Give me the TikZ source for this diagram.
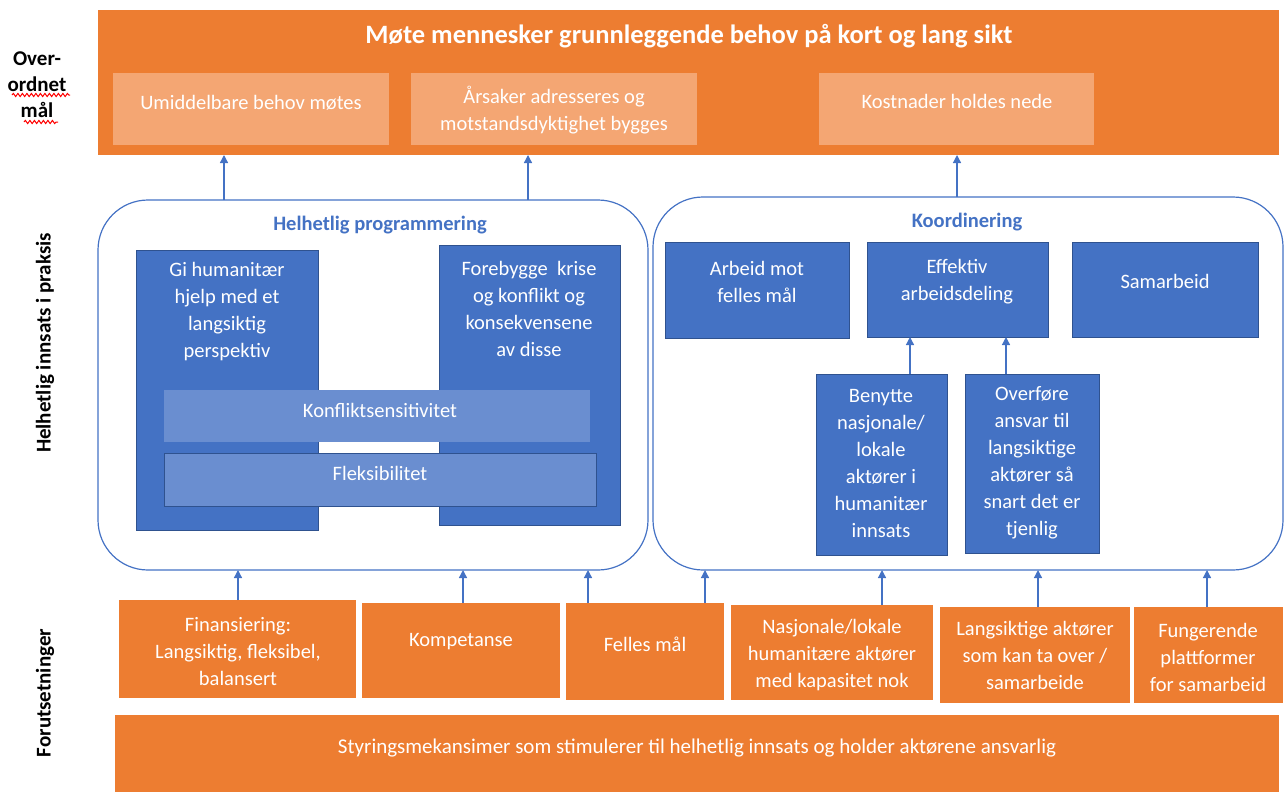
\documentclass[tikz,border=0pt]{standalone}
\usepackage{fontspec}
\setmainfont{Carlito}
\usetikzlibrary{arrows.meta,decorations.pathmorphing}
\definecolor{org}{HTML}{ED7D31}
\definecolor{lorg}{HTML}{F4A673}
\definecolor{blu}{HTML}{4472C4}
\definecolor{lblu}{HTML}{6A8ED0}
\definecolor{dblu}{HTML}{2F528F}
\newcommand\fsn{\fontsize{20.5}{27}\selectfont}
\newcommand\fst{\fontsize{26.5}{30}\selectfont\bfseries}
\newcommand\fsl{\fontsize{21}{26}\selectfont\bfseries}
\begin{document}
\begin{tikzpicture}[x=1pt,y=-1pt,
  bx/.style={anchor=north west, inner sep=0, outer sep=0},
  obox/.style={bx, fill=org},
  lobox/.style={bx, fill=lorg},
  bbox/.style={bx, fill=blu, draw=dblu, line width=0.8pt},
  lbbox/.style={bx, fill=lblu},
  rr/.style={bx, draw=blu, line width=1.2pt, rounded corners=50pt},
  txt/.style={text=white, align=center, font=\fsn, inner sep=0},
  ttl/.style={text=blu, font=\fontsize{20.5}{24}\selectfont\bfseries, inner sep=0},
  side/.style={text=black, align=center, font=\fsl, inner sep=0},
  arr/.style={draw=blu, line width=1.3pt, -{Triangle[width=8pt,length=8pt]}},
  wavy/.style={draw=red, line width=1pt, decorate, decoration={snake, amplitude=1.6pt, segment length=4.5pt}}
]
\useasboundingbox (0,0) rectangle (1287,792);

% top goal
\node[obox, minimum width=1181pt, minimum height=145pt] (top) at (98,10) {};
\node[text=white, font=\fst, inner sep=0] (toptxt) at (689,36) {Møte mennesker grunnleggende behov på kort og lang sikt};
\node[lobox, minimum width=276pt, minimum height=72pt] (umid) at (113,73) {};
\node[lobox, minimum width=286pt, minimum height=72pt] (aars) at (411,73) {};
\node[lobox, minimum width=275pt, minimum height=72pt] (kost) at (819,73) {};
\node[txt] (umidt) at (251,103) {Umiddelbare behov møtes};
\node[txt] (aarst) at (554,110) {Årsaker adresseres og\\motstandsdyktighet bygges};
\node[txt] (kostt) at (957,101) {Kostnader holdes nede};

% side labels
\node[side] (ovr) at (37,85) {Over-\\ordnet\\mål};
\draw[wavy] (12,95) -- (70,95);
\draw[wavy] (24,122) -- (58,122);
\node[side, rotate=90] (hip) at (45,343) {Helhetlig innsats i praksis};
\node[side, rotate=90] (foru) at (45,693) {Forutsetninger};

% rounded containers
\node[rr, minimum width=550pt, minimum height=370pt] (lrr) at (98,200) {};
\node[rr, minimum width=630pt, minimum height=373pt] (rrr) at (653,197) {};
\node[ttl] (lrrt) at (380,225) {Helhetlig programmering};
\node[ttl] (rrrt) at (967,222) {Koordinering};

% left panel
\node[bbox, minimum width=182pt, minimum height=280pt] (gi) at (136,250) {};
\node[bbox, minimum width=181pt, minimum height=280pt] (fore) at (439,245) {};
\node[txt] (git) at (227,312) {Gi humanitær\\hjelp med et\\langsiktig\\perspektiv};
\node[txt] (foret) at (529,309) {Forebygge\ \ krise\\og konflikt og\\konsekvensene\\av disse};
\node[lbbox, minimum width=426pt, minimum height=52pt] (konf) at (164,390) {};
\node[bbox, fill=lblu, minimum width=432pt, minimum height=53pt] (flek) at (164,453) {};
\node[txt] (konft) at (380,410) {Konfliktsensitivitet};
\node[txt] (flekt) at (380,473) {Fleksibilitet};

% right panel
\node[bbox, minimum width=184pt, minimum height=96pt] (arb) at (665,242) {};
\node[bbox, minimum width=181pt, minimum height=95pt] (eff) at (867,242) {};
\node[bbox, minimum width=186pt, minimum height=95pt] (sam) at (1072,242) {};
\node[txt] (arbt) at (757,282) {Arbeid mot\\felles mål};
\node[txt] (efft) at (957,282) {Effektiv\\arbeidsdeling};
\node[txt] (samt) at (1165,281) {Samarbeid};
\node[bbox, minimum width=131pt, minimum height=181pt] (ben) at (816,374) {};
\node[bbox, minimum width=134pt, minimum height=179pt] (ovf) at (965,374) {};
\node[txt] (bent) at (881,463) {Benytte\\nasjonale/\\lokale\\aktører i\\humanitær\\innsats};
\node[txt] (ovft) at (1032,463) {Overføre\\ansvar til\\langsiktige\\aktører så\\snart det er\\tjenlig};

% bottom prerequisites
\node[obox, minimum width=237pt, minimum height=98pt] (fin) at (119,600) {};
\node[obox, minimum width=198pt, minimum height=95pt] (kom) at (362,603) {};
\node[obox, minimum width=158pt, minimum height=97pt] (fel) at (566,603) {};
\node[obox, minimum width=202pt, minimum height=95pt] (nas) at (731,605) {};
\node[obox, minimum width=190pt, minimum height=96pt] (lan) at (940,607) {};
\node[obox, minimum width=149pt, minimum height=96pt] (fun) at (1134,607) {};
\node[obox, minimum width=1164pt, minimum height=77pt] (sty) at (115,715) {};
\node[txt] (fint) at (238,652) {Finansiering:\\Langsiktig, fleksibel,\\balansert};
\node[txt] (komt) at (461,642) {Kompetanse};
\node[txt] (felt) at (645,644) {Felles mål};
\node[txt] (nast) at (832,655) {Nasjonale/lokale\\humanitære aktører\\med kapasitet nok};
\node[txt] (lant) at (1035,655) {Langsiktige aktører\\som kan ta over /\\samarbeide};
\node[txt] (funt) at (1208,657) {Fungerende\\plattformer\\for samarbeid};
\node[txt, font=\fontsize{21}{27}\selectfont] (styt) at (697,748) {Styringsmekansimer som stimulerer til helhetlig innsats og holder aktørene ansvarlig};

% arrows
\draw[arr] (lrr.north -| 224,0) -- (top.south -| 224,0);
\draw[arr] (lrr.north -| 528,0) -- (top.south -| 528,0);
\draw[arr] (rrr.north -| 957,0) -- (top.south -| 957,0);
\draw[arr] (ben.north -| 910,0) -- (eff.south -| 910,0);
\draw[arr] (ovf.north -| 1006,0) -- (eff.south -| 1006,0);
\draw[arr] (fin.north -| 238,0) -- (lrr.south -| 238,0);
\draw[arr] (kom.north -| 463,0) -- (lrr.south -| 463,0);
\draw[arr] (fel.north -| 588,0) -- (lrr.south -| 588,0);
\draw[arr] (fel.north -| 705,0) -- (rrr.south -| 705,0);
\draw[arr] (nas.north -| 882,0) -- (rrr.south -| 882,0);
\draw[arr] (lan.north -| 1038,0) -- (rrr.south -| 1038,0);
\draw[arr] (fun.north -| 1207,0) -- (rrr.south -| 1207,0);
\end{tikzpicture}
\end{document}
